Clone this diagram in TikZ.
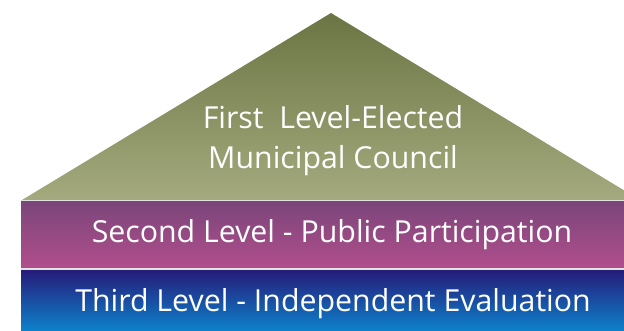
\documentclass[tikz,border=0pt]{standalone}
\usepackage{fontspec}
\setmainfont{Open Sans}
\definecolor{councilTop}{HTML}{6B7543}
\definecolor{councilBot}{HTML}{A4AA7E}
\definecolor{partTop}{HTML}{7A467A}
\definecolor{partBot}{HTML}{B24E8C}
\definecolor{evalTop}{HTML}{261A78}
\definecolor{evalBot}{HTML}{0A8AD2}

\begin{document}
\begin{tikzpicture}[x=1pt,y=1pt,
        levelText/.style={text=white, inner sep=0pt, anchor=base, font=\fontsize{30.3}{41}\selectfont},
        seam/.style={draw=white!78!gray, line width=1.2pt}]
        \useasboundingbox (0,0) rectangle (624,331);
        \clip (0,0) rectangle (624,331);
        % pyramid top and the two bands
        \shade[top color=councilTop, bottom color=councilBot] (22,131) -- (331,318) -- (640,131) -- cycle;
        \shade[top color=partTop, bottom color=partBot] (21,62) rectangle (640,130);
        \shade[top color=evalTop, bottom color=evalBot] (21,-5) rectangle (640,62);
        \draw[seam] (21,130.5) -- (640,130.5);
        \draw[seam] (21,62) -- (640,62);
        \node[levelText] (council) at (333,202.7) {First\ \ Level-Elected};
        \node[levelText] (municipal) at (333,162) {Municipal Council};
        \node[levelText] (participation) at (332,88) {Second Level - Public Participation};
        \node[levelText] (evaluation) at (333,19.3) {Third Level - Independent Evaluation};
\end{tikzpicture}
\end{document}
